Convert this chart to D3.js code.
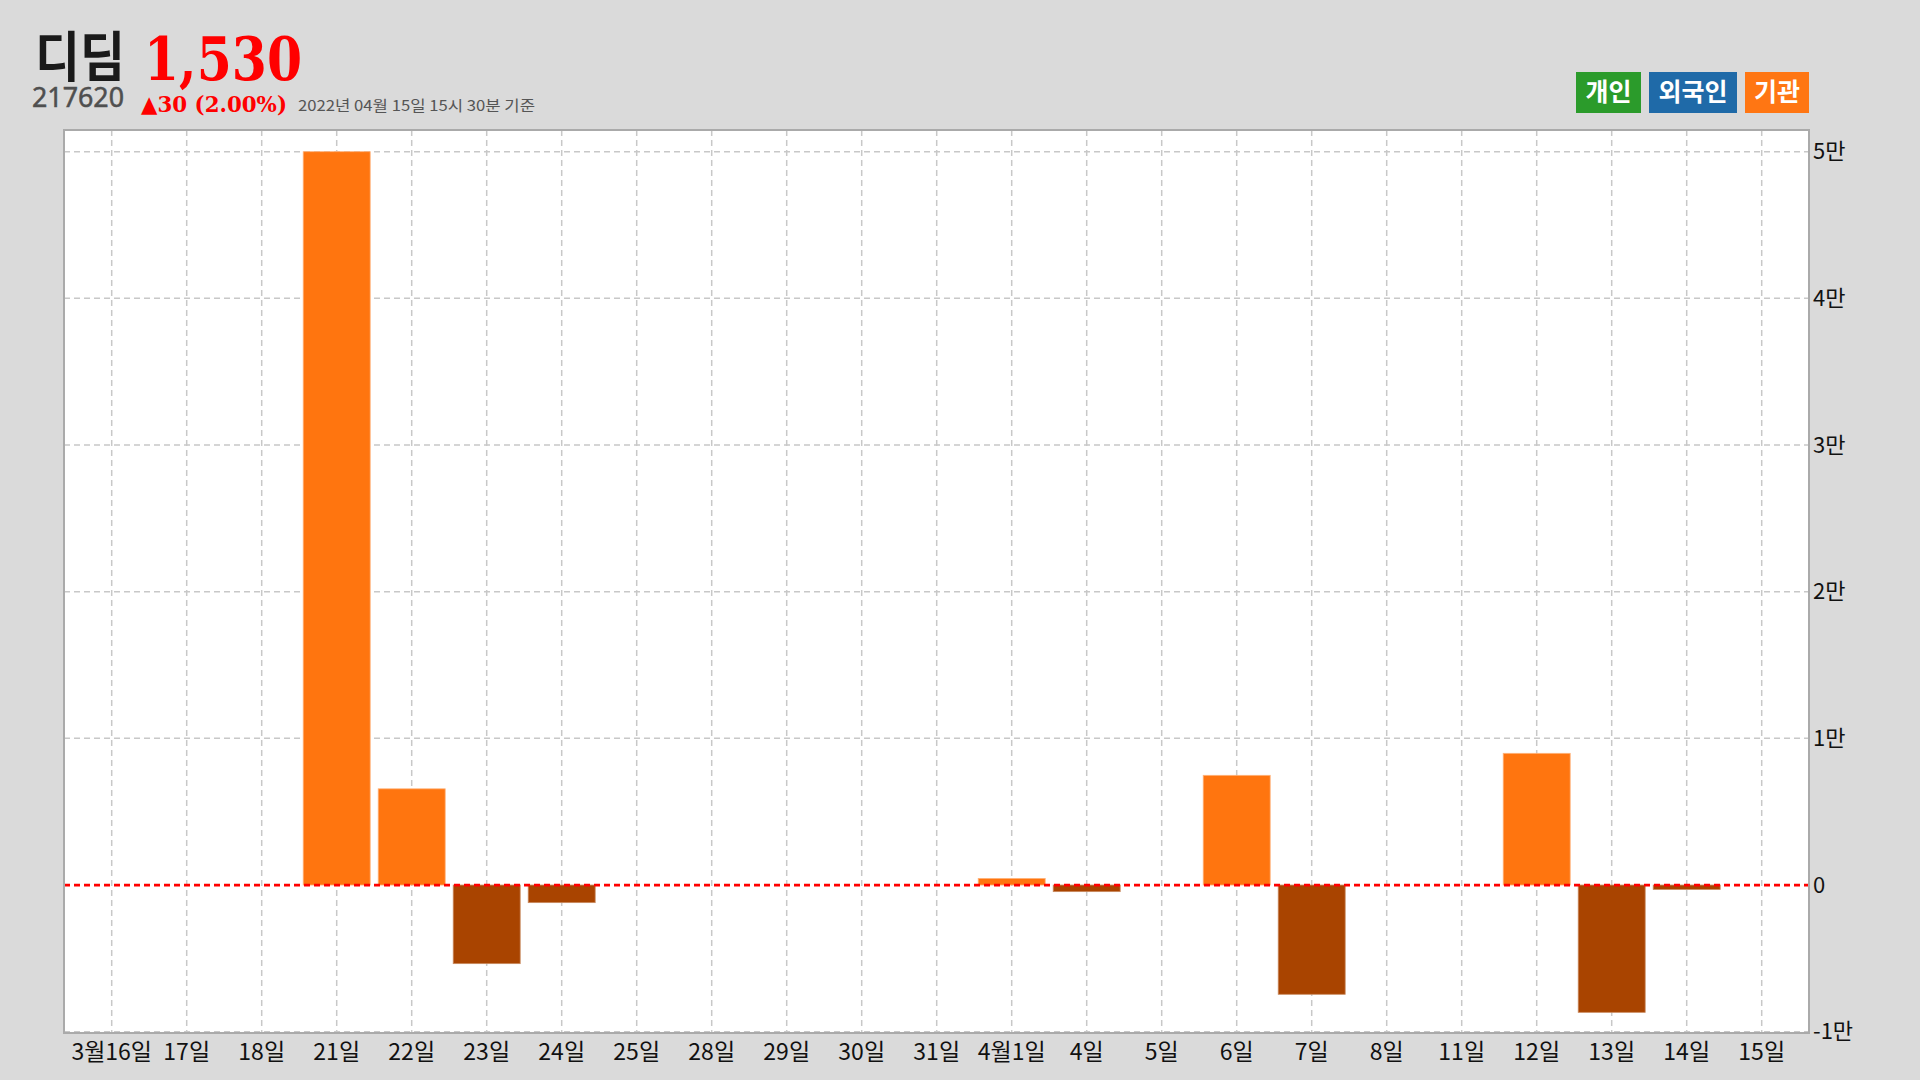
<!DOCTYPE html>
<html>
<head>
<meta charset="utf-8">
<script src="https://cdn.jsdelivr.net/npm/d3@7"></script>
<style>
  html, body { margin: 0; padding: 0; background: #dadada; }
  svg { display: block; }
  text { font-family: "Noto Sans CJK KR", "Noto Sans", sans-serif; }
</style>
</head>
<body>
<svg id="chart" width="1920" height="1080"></svg>
<script>
// ---- data ----
const dates = ["3월16일","17일","18일","21일","22일","23일","24일","25일","28일","29일","30일","31일",
               "4월1일","4일","5일","6일","7일","8일","11일","12일","13일","14일","15일"];
const institutionNet = [0,0,0,50000,6560,-5360,-1200,0,0,0,0,0,
                        450,-450,0,7480,-7450,0,0,8980,-8680,-300,0];
const yTicks = [-10000,0,10000,20000,30000,40000,50000];
const yTickLabels = ["-1만","0","1만","2만","3만","4만","5만"];
const legendItems = ["개인","외국인","기관"];
const legendColors = ["#2b9b2b","#1f6aa8","#ff7613"];
const stockName = "디딤";
const stockCode = "217620";
const stockPrice = "1,530";
const stockChange = "▲30 (2.00%)";
const stampText = "2022년 04월 15일 15시 30분 기준";

// ---- layout ----
const svg = d3.select("#chart");
const frame = {left: 64, right: 1809, top: 130, bottom: 1033};

const x = d3.scaleBand()
  .domain(dates)
  .range([74.2, 1799.2])
  .paddingInner(0.107)
  .paddingOuter(0.0535);

const y = d3.scaleLinear()
  .domain([-10000, 50000])
  .range([1031.7, 151.7]);

// plot background
svg.append("rect")
  .attr("x", frame.left).attr("y", frame.top)
  .attr("width", frame.right - frame.left).attr("height", frame.bottom - frame.top)
  .attr("fill", "#ffffff");

// grid
const grid = svg.append("g");
grid.selectAll("line.v").data(dates).join("line")
  .attr("class","v")
  .attr("x1", d => x(d) + x.bandwidth()/2).attr("x2", d => x(d) + x.bandwidth()/2)
  .attr("y1", frame.top).attr("y2", frame.bottom)
  .attr("stroke", "#c8c8c8").attr("stroke-width", 1.5).attr("stroke-dasharray", "6,4");
grid.selectAll("line.h").data(yTicks.filter(t => t !== 0)).join("line")
  .attr("class","h")
  .attr("x1", frame.left).attr("x2", frame.right)
  .attr("y1", d => y(d)).attr("y2", d => y(d))
  .attr("stroke", "#c8c8c8").attr("stroke-width", 1.5).attr("stroke-dasharray", "6,4");

// bars
const data = dates.map((d, i) => ({date: d, value: institutionNet[i]})).filter(d => d.value !== 0);
svg.append("g").selectAll("rect").data(data).join("rect")
  .attr("x", d => x(d.date))
  .attr("width", x.bandwidth())
  .attr("y", d => y(Math.max(0, d.value)))
  .attr("height", d => Math.abs(y(d.value) - y(0)))
  .attr("fill", d => d.value >= 0 ? "#ff750f" : "#a94400")
  .attr("stroke", d => d.value >= 0 ? "#ffb27a" : "#c98a5f")
  .attr("stroke-width", 0.8);

// zero line
svg.append("line")
  .attr("x1", frame.left).attr("x2", frame.right)
  .attr("y1", y(0)).attr("y2", y(0))
  .attr("stroke", "#ff0000").attr("stroke-width", 2.8).attr("stroke-dasharray", "6,4");

// frame border
svg.append("rect")
  .attr("x", frame.left).attr("y", frame.top)
  .attr("width", frame.right - frame.left).attr("height", frame.bottom - frame.top)
  .attr("fill", "none").attr("stroke", "#aaaaaa").attr("stroke-width", 2);

// y axis (right)
const yAxis = d3.axisRight(y).tickValues(yTicks)
  .tickFormat((d, i) => yTickLabels[i]).tickSize(0).tickPadding(4);
const yg = svg.append("g").attr("transform", `translate(${frame.right},0)`).call(yAxis);
yg.select(".domain").remove();
yg.selectAll("text")
  .attr("font-size", 22)
  .attr("fill", "#111")
  .style("font-family", '"Noto Sans CJK KR", sans-serif');

// x axis (bottom)
const xAxis = d3.axisBottom(x).tickSize(0).tickPadding(0);
const xg = svg.append("g").attr("transform", `translate(0,${frame.bottom})`).call(xAxis);
xg.select(".domain").remove();
xg.selectAll("text")
  .attr("dy", null)
  .attr("y", 27)
  .attr("font-size", 23)
  .attr("fill", "#111")
  .style("font-family", '"Noto Sans CJK KR", sans-serif');

// header
svg.append("text")
  .attr("x", 35).attr("y", 77)
  .attr("font-size", 54).attr("font-weight", 700).attr("fill", "#1a1a1a")
  .attr("textLength", 90).attr("lengthAdjust", "spacingAndGlyphs")
  .text(stockName);
svg.append("text")
  .attr("x", 144).attr("y", 80)
  .attr("font-size", 60).attr("font-weight", 700).attr("fill", "#ff0000")
  .style("font-family", '"DejaVu Serif", "Liberation Serif", serif')
  .attr("textLength", 158).attr("lengthAdjust", "spacingAndGlyphs")
  .text(stockPrice);
svg.append("text")
  .attr("x", 32).attr("y", 107)
  .attr("font-size", 27).attr("fill", "#4f4f4f")
  .style("font-family", '"Noto Sans", sans-serif')
  .attr("stroke", "#4f4f4f").attr("stroke-width", 0.5)
  .attr("textLength", 92).attr("lengthAdjust", "spacingAndGlyphs")
  .text(stockCode);
svg.append("text")
  .attr("x", 141).attr("y", 112)
  .attr("font-size", 23).attr("font-weight", 700).attr("fill", "#ff0000")
  .style("font-family", '"DejaVu Serif", "Liberation Serif", serif')
  .attr("textLength", 146).attr("lengthAdjust", "spacingAndGlyphs")
  .text(stockChange);
svg.append("text")
  .attr("x", 298).attr("y", 111)
  .attr("font-size", 15).attr("fill", "#555555")
  .attr("textLength", 237).attr("lengthAdjust", "spacingAndGlyphs")
  .text(stampText);

// legend
const legendBoxes = [{x:1576, w:65},{x:1649, w:88},{x:1745, w:64}];
const lg = svg.append("g");
legendItems.forEach((name, i) => {
  lg.append("rect")
    .attr("x", legendBoxes[i].x).attr("y", 72)
    .attr("width", legendBoxes[i].w).attr("height", 41)
    .attr("fill", legendColors[i]);
  lg.append("text")
    .attr("x", legendBoxes[i].x + legendBoxes[i].w/2).attr("y", 101)
    .attr("text-anchor", "middle")
    .attr("font-size", 25).attr("font-weight", 700).attr("fill", "#ffffff")
    .text(name);
});
</script>
</body>
</html>
